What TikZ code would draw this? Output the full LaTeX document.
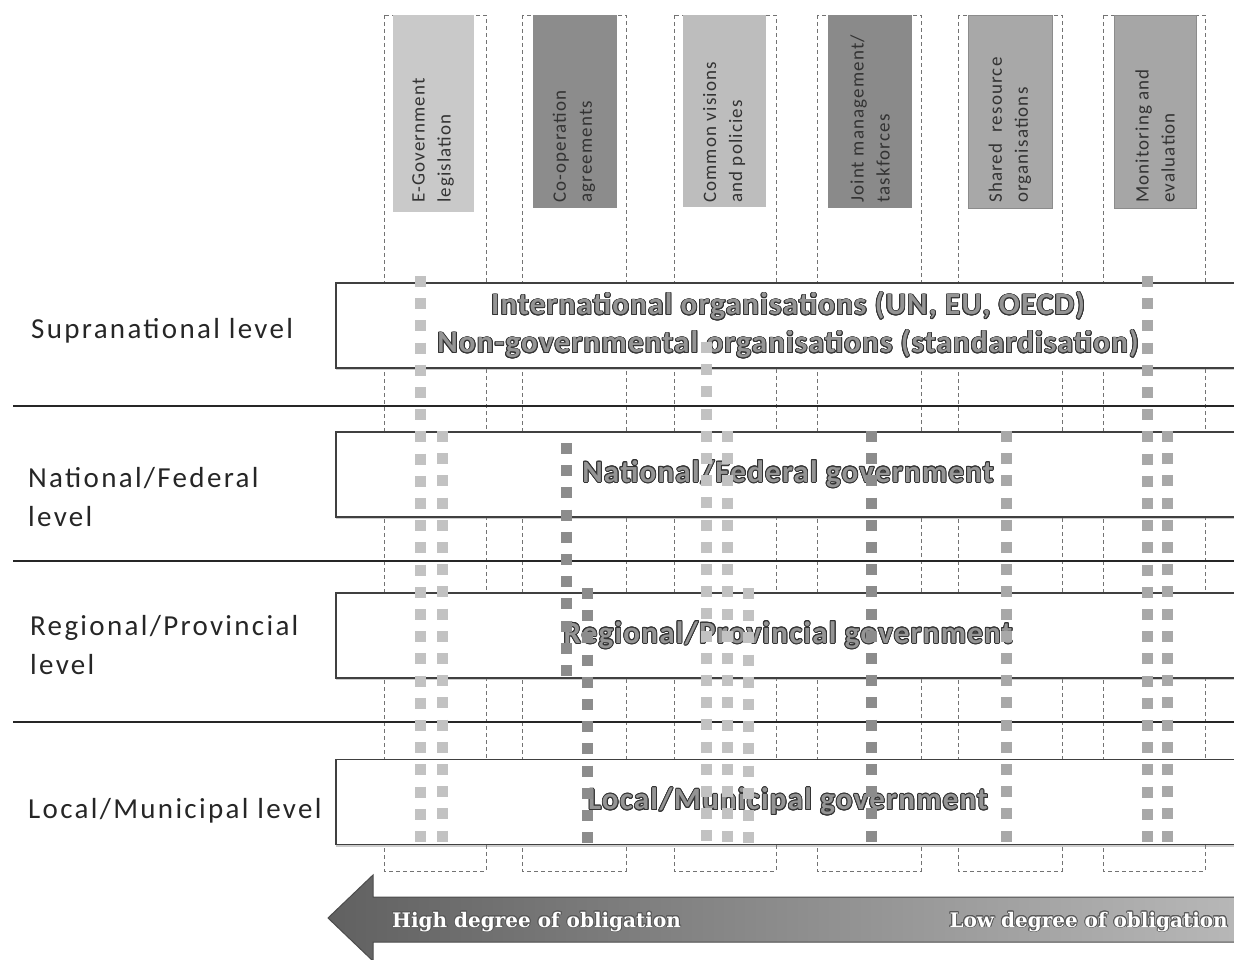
\documentclass[tikz,border=0pt]{standalone}
\usepackage{fontspec}
\setmainfont{Carlito}
\newfontfamily\slabfont{DejaVu Serif}
\usepackage{contour}
\contourlength{0.9pt}
\usetikzlibrary{shadows}
\definecolor{dotlight}{HTML}{C2C2C2}
\definecolor{dotmid}{HTML}{A8A8A8}
\definecolor{dotdark}{HTML}{8C8C8C}
\newcommand{\outlined}[1]{{\color{black!42}\contour{black!80}{#1}}}
\newcommand{\shadowed}[1]{{\color{white}\contour{black!65}{#1}}}

\begin{document}
\begin{tikzpicture}[x=1pt, y=-1pt,
    colbox/.style={draw=black!55, dash pattern=on 4pt off 3pt, line width=0.7pt},
    headtext/.style={rotate=90, anchor=west, align=left, inner sep=0pt, text=black!80,
      font={\fontsize{19}{26}\selectfont\addfontfeatures{LetterSpace=6}}},
    levelbox/.style={draw=black!75, line width=1.2pt, fill=white, align=center,
      minimum width=904pt, minimum height=85pt,
      font={\fontsize{31}{38}\selectfont\bfseries\addfontfeatures{LetterSpace=4}},
      drop shadow={shadow xshift=0pt, shadow yshift=-2pt, opacity=0.4}},
    leveltext/.style={anchor=base west, align=left, inner sep=0pt, text=black!85,
      font={\fontsize{29}{39}\selectfont\addfontfeatures{LetterSpace=8}}},
    arrowtext/.style={inner sep=0pt, font={\slabfont\bfseries\fontsize{20}{24}\selectfont}},
    dots/.style={line width=11pt, dash pattern=on 11pt off 11.2pt},
    rule/.style={draw=black!85, line width=2.2pt}]
         \useasboundingbox (0,0) rectangle (1234,960);
         \draw[colbox] (384,15) rectangle (486,871);
         \draw[colbox] (522,15) rectangle (626,871);
         \draw[colbox] (674,15) rectangle (776,871);
         \draw[colbox] (817,15) rectangle (921,871);
         \draw[colbox] (958,15) rectangle (1062,871);
         \draw[colbox] (1103,15) rectangle (1205,871);
         \fill[black!21] (393,15) rectangle (474,212);
         \fill[black!45] (533,15) rectangle (617,208);
         \fill[black!26] (683,15) rectangle (766,207);
         \fill[black!46] (828,15) rectangle (912,208);
         \filldraw[fill=black!34, draw=black!45] (968,15) rectangle (1052,208);
         \filldraw[fill=black!35, draw=black!45] (1114,15) rectangle (1196,208);
         \node[headtext] (legis) at (433,203) {E-Government\\legislation};
         \node[headtext] (coop) at (574,203) {Co-operation\\agreements};
         \node[headtext] (visions) at (724,203) {Common visions\\and policies};
         \node[headtext] (joint) at (870,203) {Joint management/\\taskforces};
         \node[headtext] (shared) at (1010,203) {Shared\ \ resource\\organisations};
         \node[headtext] (monit) at (1155,203) {Monitoring and\\evaluation};
         \draw[rule] (13,406) -- (1240,406);
         \draw[rule] (13,561) -- (1240,561);
         \draw[rule] (13,722) -- (1240,722);
         \node[levelbox] (supbox) at (788,325.5) {\outlined{International organisations (UN, EU, OECD)}\\\outlined{Non-governmental organisations (standardisation)}};
         \node[levelbox] (natbox) at (788,474.5) {\outlined{National/Federal government}};
         \node[levelbox] (regbox) at (788,635.5) {\outlined{Regional/Provincial government}};
         \node[levelbox] (locbox) at (788,802) {\outlined{Local/Municipal government}};
         \draw[dots, dotlight] (420,276) -- (420,849);
         \draw[dots, dotlight] (442,431) -- (442,849);
         \draw[dots, dotdark] (566,443) -- (566,678);
         \draw[dots, dotdark] (587,588) -- (587,849);
         \draw[dots, dotlight] (706,342) -- (706,849);
         \draw[dots, dotlight] (727,431) -- (727,849);
         \draw[dots, dotlight] (748,588) -- (748,849);
         \draw[dots, dotdark] (871,431) -- (871,849);
         \draw[dots, dotmid] (1006,431) -- (1006,849);
         \draw[dots, dotmid] (1147,276) -- (1147,849);
         \draw[dots, dotmid] (1167,431) -- (1167,849);
         \node[leveltext] (supra) at (31,338) {Supranational level};
         \node[leveltext] (natl) at (28,526) {National/Federal\\level};
         \node[leveltext] (regl) at (30,674) {Regional/Provincial\\level};
         \node[leveltext] (locl) at (28,818) {Local/Municipal level};
         \shade[left color=black!62, right color=black!28, draw=black!70, line width=1pt]
           (328,918) -- (373,875) -- (373,897) -- (1240,897) -- (1240,942) -- (373,942) -- (373,961) -- cycle;
         \node[arrowtext, anchor=base west] (high) at (392,927) {\shadowed{High degree of obligation}};
         \node[arrowtext, anchor=base east] (low) at (1228,927) {\shadowed{Low degree of obligation}};
\end{tikzpicture}
\end{document}
